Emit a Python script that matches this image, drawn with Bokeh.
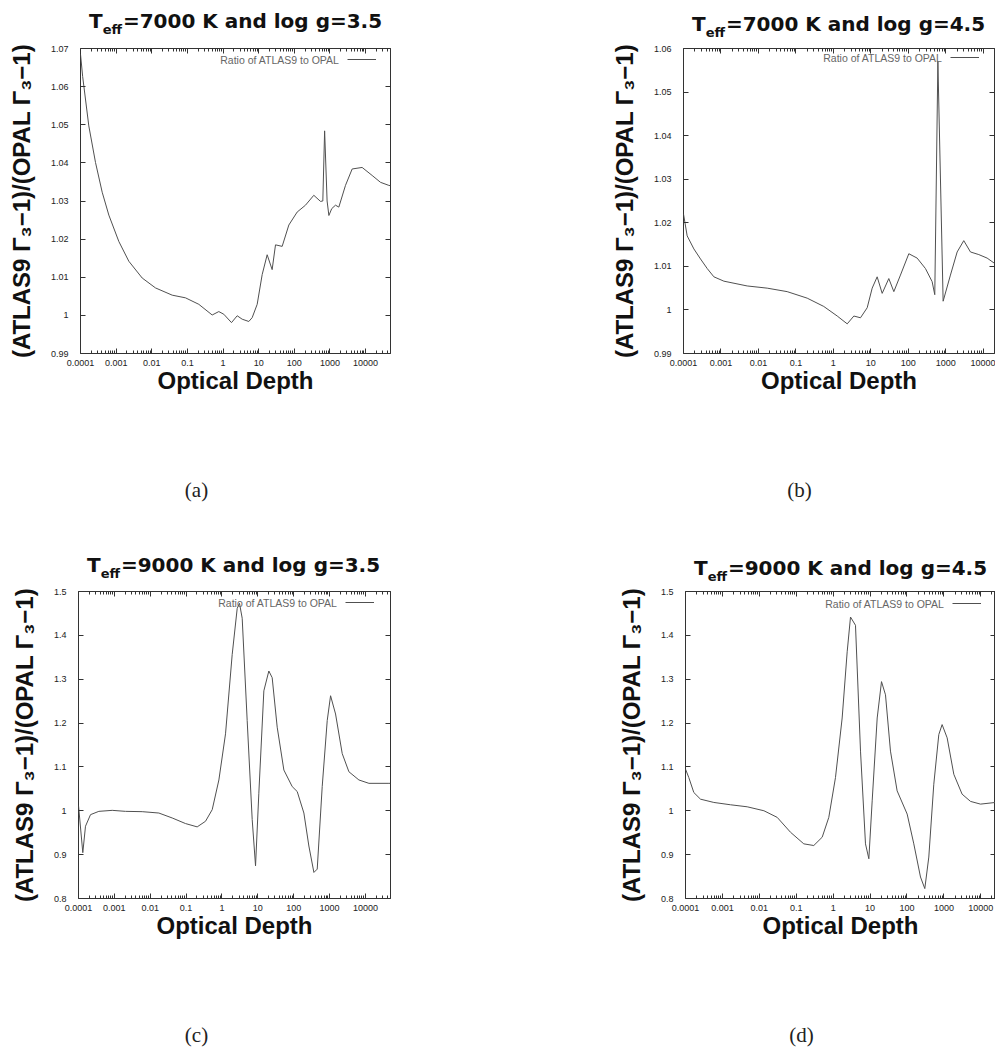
from bokeh.plotting import figure
from bokeh.models import (LogAxis, LinearAxis, FixedTicker, Label, Legend, LegendItem,
                          Range1d, CustomJSTickFormatter)
from bokeh.layouts import column, row
from bokeh.embed import file_html
from bokeh.resources import INLINE

# ---------------- data ----------------
x_tick_values = [1e-4, 1e-3, 1e-2, 1e-1, 1.0, 10.0, 100.0, 1000.0, 10000.0]
x_tick_labels = ["0.0001", "0.001", "0.01", "0.1", "1", "10", "100", "1000", "10000"]

y_ticks_a = [0.99, 1.0, 1.01, 1.02, 1.03, 1.04, 1.05, 1.06, 1.07]
y_labels_a = ["0.99", "1", "1.01", "1.02", "1.03", "1.04", "1.05", "1.06", "1.07"]
y_ticks_b = [0.99, 1.0, 1.01, 1.02, 1.03, 1.04, 1.05, 1.06]
y_labels_b = ["0.99", "1", "1.01", "1.02", "1.03", "1.04", "1.05", "1.06"]
y_ticks_cd = [0.8, 0.9, 1.0, 1.1, 1.2, 1.3, 1.4, 1.5]
y_labels_cd = ["0.8", "0.9", "1", "1.1", "1.2", "1.3", "1.4", "1.5"]

# (a) Teff=7000 K, log g=3.5  -- log10(optical depth) and ratio
log_tau_a = [-4.0, -3.94, -3.767, -3.579, -3.391, -3.205, -2.925, -2.644, -2.269, -1.895,
             -1.427, -1.054, -0.68, -0.305, -0.119, 0.021, 0.237, 0.397, 0.537, 0.723,
             0.817, 0.958, 1.098, 1.238, 1.378, 1.472, 1.659, 1.846, 2.08, 2.313,
             2.547, 2.734, 2.80, 2.85, 2.92, 2.97, 3.05, 3.155, 3.249, 3.436,
             3.623, 3.903, 4.184, 4.418, 4.651, 4.699]
ratio_a = [1.0685, 1.0627, 1.0497, 1.0401, 1.0323, 1.0263, 1.0194, 1.0142, 1.0098, 1.0072,
           1.0053, 1.0046, 1.0029, 1.0001, 1.0010, 1.0003, 0.9981, 0.9999, 0.9990, 0.9984,
           0.9994, 1.0029, 1.0107, 1.0159, 1.0120, 1.0185, 1.0181, 1.0237, 1.0271, 1.0289,
           1.0315, 1.0299, 1.0300, 1.0484, 1.0300, 1.0262, 1.0280, 1.0289, 1.0284, 1.0341,
           1.0384, 1.0388, 1.0367, 1.0349, 1.0341, 1.0340]

# (b) Teff=7000 K, log g=4.5
log_tau_b = [-4.0, -3.902, -3.723, -3.546, -3.367, -3.189, -2.922, -2.300, -1.766, -1.233,
             -0.698, -0.256, 0.103, 0.370, 0.547, 0.724, 0.903, 1.036, 1.169, 1.303,
             1.480, 1.614, 1.791, 2.014, 2.236, 2.458, 2.636, 2.707, 2.790, 2.930,
             3.125, 3.304, 3.481, 3.660, 3.882, 4.104, 4.301]
ratio_b = [1.0220, 1.0170, 1.0140, 1.0117, 1.0095, 1.0076, 1.0066, 1.0055, 1.0050, 1.0042,
           1.0027, 1.0008, 0.9986, 0.9968, 0.9986, 0.9982, 1.0005, 1.0050, 1.0076, 1.0038,
           1.0072, 1.0042, 1.0080, 1.0129, 1.0119, 1.0095, 1.0065, 1.0035, 1.0570, 1.0020,
           1.0080, 1.0133, 1.0159, 1.0133, 1.0127, 1.0119, 1.0107]

# (c) Teff=9000 K, log g=3.5
log_tau_c = [-4.0, -3.88, -3.805, -3.665, -3.433, -3.06, -2.69, -2.224, -1.76, -1.387,
             -1.017, -0.691, -0.459, -0.272, -0.086, 0.099, 0.285, 0.425, 0.489, 0.564,
             0.703, 0.843, 0.936, 1.028, 1.168, 1.307, 1.4, 1.54, 1.726, 1.958,
             2.098, 2.284, 2.423, 2.563, 2.656, 2.795, 2.935, 3.028, 3.167, 3.353,
             3.539, 3.818, 4.097, 4.655, 4.699]
ratio_c = [1.012, 0.9045, 0.9648, 0.9912, 0.9987, 1.001, 0.9987, 0.998, 0.9949, 0.9836,
           0.9709, 0.9633, 0.9761, 1.0026, 1.0703, 1.1755, 1.356, 1.4616, 1.4729, 1.439,
           1.2058, 0.98, 0.8745, 1.04, 1.2735, 1.3187, 1.3035, 1.1906, 1.0929, 1.0552,
           1.0439, 0.9949, 0.9197, 0.8594, 0.867, 1.0552, 1.2058, 1.2623, 1.2207, 1.1304,
           1.089, 1.0703, 1.0626, 1.0626, 1.0626]

# (d) Teff=9000 K, log g=4.5
log_tau_d = [-4.0, -3.910, -3.775, -3.594, -3.233, -2.781, -2.329, -1.876, -1.516, -1.156,
             -0.795, -0.525, -0.297, -0.118, 0.063, 0.244, 0.380, 0.470, 0.605, 0.741,
             0.876, 0.967, 1.057, 1.193, 1.310, 1.418, 1.553, 1.733, 2.005, 2.185,
             2.366, 2.483, 2.591, 2.726, 2.862, 2.952, 3.088, 3.269, 3.493, 3.721,
             3.992, 4.398]
ratio_d = [1.095, 1.0757, 1.0417, 1.0265, 1.019, 1.0137, 1.0091, 1.0001, 0.985, 0.9511,
           0.9246, 0.9208, 0.9398, 0.985, 1.0757, 1.2116, 1.3625, 1.4418, 1.423, 1.136,
           0.9246, 0.8906, 1.0227, 1.2116, 1.2945, 1.2644, 1.136, 1.0454, 0.9925, 0.9246,
           0.849, 0.8226, 0.8945, 1.0605, 1.1738, 1.1965, 1.1663, 1.0832, 1.0379, 1.0214,
           1.0152, 1.019]

titles = [("7000", "3.5"), ("7000", "4.5"), ("9000", "3.5"), ("9000", "4.5")]
captions = ["(a)", "(b)", "(c)", "(d)"]
legend_text = "Ratio of ATLAS9 to OPAL"
x_label = "Optical Depth"
y_label = "(ATLAS9 \u0393\u2083\u22121)/(OPAL \u0393\u2083\u22121)"

minor_x = [m * 10.0 ** k for k in range(-4, 5) for m in range(2, 10)]

LINE = "#505050"
FRAME = "#333333"
INK = "#111111"


def text_fig(width, height):
    f = figure(width=width, height=height, x_range=Range1d(0, 1), y_range=Range1d(0, 1),
               output_backend="svg", toolbar_location=None,
               x_axis_location=None, y_axis_location=None,
               min_border_left=0, min_border_right=0, min_border_top=0, min_border_bottom=0,
               background_fill_color="white", border_fill_color="white")
    f.grid.visible = False
    f.outline_line_color = None
    return f


def title_fig(width, height, frame_left, mid_from_top, sub_mid_from_top, title):
    f = text_fig(width, height)
    teff, logg = title
    x0 = frame_left + 8.5
    f.add_layout(Label(x=x0, y=height - mid_from_top, x_units="screen", y_units="screen",
                       text="T", text_font="DejaVu Sans", text_font_size="20px",
                       text_font_style="bold", text_color=INK,
                       text_align="left", text_baseline="middle"))
    f.add_layout(Label(x=x0 + 13.8, y=height - sub_mid_from_top, x_units="screen",
                       y_units="screen", text="eff",
                       text_font="DejaVu Sans", text_font_size="13px",
                       text_font_style="bold", text_color=INK,
                       text_align="left", text_baseline="middle"))
    f.add_layout(Label(x=x0 + 33.9, y=height - mid_from_top, x_units="screen", y_units="screen",
                       text="=%s K and log g=%s" % (teff, logg),
                       text_font="DejaVu Sans", text_font_size="20px",
                       text_font_style="bold", text_color=INK,
                       text_align="left", text_baseline="middle"))
    return f


def caption_fig(width, height, x, center_from_top, caption):
    f = text_fig(width, height)
    f.add_layout(Label(x=x, y=height - center_from_top, x_units="screen", y_units="screen",
                       text=caption, text_font="Liberation Serif", text_font_size="21px",
                       text_color="#222222", text_align="center", text_baseline="middle"))
    return f


def make_panel(log_tau, ratio, x_end, y_lo, y_hi, yticks, ylabels,
               width, height, left, top, frame_w, frame_h):
    right = width - left - frame_w
    bottom = height - top - frame_h
    p = figure(width=width, height=height, x_axis_type="log",
               x_range=Range1d(1e-4, x_end), y_range=Range1d(y_lo, y_hi),
               output_backend="svg", toolbar_location=None,
               min_border_left=left, min_border_right=right,
               min_border_top=top, min_border_bottom=bottom,
               background_fill_color="white", border_fill_color="white")
    p.grid.visible = False
    p.outline_line_color = FRAME
    p.outline_line_width = 1

    tau = [10 ** v for v in log_tau]
    r = p.line(tau, ratio, line_color=LINE, line_width=1)

    xt = FixedTicker(ticks=x_tick_values, minor_ticks=minor_x)
    yt = FixedTicker(ticks=yticks)

    xa = p.below[0]
    xa.ticker = xt
    xa.major_label_overrides = dict(zip(x_tick_values, x_tick_labels))
    xa.major_label_text_font = "Liberation Sans"
    xa.major_label_text_font_size = "9px"
    xa.major_label_text_color = "#222222"
    xa.major_label_standoff = 6
    xa.axis_line_color = None
    xa.major_tick_in = 5
    xa.major_tick_out = 0
    xa.minor_tick_in = 3
    xa.minor_tick_out = 0
    xa.major_tick_line_color = FRAME
    xa.minor_tick_line_color = FRAME
    xa.axis_label = x_label
    xa.axis_label_text_font = "Liberation Sans"
    xa.axis_label_text_font_size = "24px"
    xa.axis_label_text_font_style = "bold"
    xa.axis_label_text_color = INK
    xa.axis_label_standoff = -2

    ya = p.left[0]
    ya.ticker = yt
    ya.major_label_overrides = dict(zip(yticks, ylabels))
    ya.major_label_text_font = "Liberation Sans"
    ya.major_label_text_font_size = "9px"
    ya.major_label_text_color = "#222222"
    ya.major_label_standoff = 12
    ya.axis_line_color = None
    ya.major_tick_in = 5
    ya.major_tick_out = 0
    ya.minor_tick_line_color = None
    ya.major_tick_line_color = FRAME
    ya.axis_label = y_label
    ya.axis_label_text_font = "Liberation Sans"
    ya.axis_label_text_font_size = "24px"
    ya.axis_label_text_font_style = "bold"
    ya.axis_label_text_color = INK
    ya.axis_label_standoff = 13

    blank = CustomJSTickFormatter(code="return ''")
    top_ax = LogAxis(ticker=xt, formatter=blank, major_label_standoff=0,
                     major_label_text_font_size="0px",
                     axis_line_color=None, major_tick_in=5, major_tick_out=0,
                     minor_tick_in=3, minor_tick_out=0,
                     major_tick_line_color=FRAME, minor_tick_line_color=FRAME)
    p.add_layout(top_ax, "above")
    right_ax = LinearAxis(ticker=yt, formatter=blank, major_label_standoff=0,
                          major_label_text_font_size="0px",
                          axis_line_color=None, major_tick_in=5, major_tick_out=0,
                          minor_tick_line_color=None, major_tick_line_color=FRAME)
    p.add_layout(right_ax, "right")

    # key: text on the left, line sample on the right
    key_y = frame_h - 14
    p.add_layout(Label(x=259, y=key_y, x_units="screen", y_units="screen", text=legend_text,
                       text_font="Liberation Sans", text_font_size="10.5px",
                       text_color="#666666", text_align="right", text_baseline="middle"))
    leg = Legend(items=[LegendItem(label=" ", renderers=[r])], location=(267, key_y - 4),
                 glyph_width=29, glyph_height=8, padding=0, margin=0, spacing=0,
                 label_standoff=0, label_width=0, label_height=8,
                 label_text_font_size="8px", border_line_color=None,
                 background_fill_alpha=0)
    p.add_layout(leg)
    return p


# top half (0..520)
ta = title_fig(497, 42, 80, 20.5, 29.0, titles[0])
tb = title_fig(498, 42, 186, 23.5, 32.0, titles[1])
pa = make_panel(log_tau_a, ratio_a, 5e4, 0.99, 1.07, y_ticks_a, y_labels_a,
                width=497, height=418, left=80, top=3, frame_w=310, frame_h=308)
pb = make_panel(log_tau_b, ratio_b, 2e4, 0.99, 1.06, y_ticks_b, y_labels_b,
                width=498, height=418, left=186, top=6, frame_w=311, frame_h=310)
ca = caption_fig(497, 60, 196, 29, captions[0])
cb = caption_fig(498, 60, 302, 29, captions[1])

# bottom half (520..1049)
tc = title_fig(497, 65, 78, 44.0, 52.5, titles[2])
td = title_fig(498, 65, 188, 47.0, 55.5, titles[3])
pc = make_panel(log_tau_c, ratio_c, 5e4, 0.8, 1.5, y_ticks_cd, y_labels_cd,
                width=497, height=419, left=78, top=3, frame_w=312, frame_h=310)
pd = make_panel(log_tau_d, ratio_d, 2.5e4, 0.8, 1.5, y_ticks_cd, y_labels_cd,
                width=498, height=419, left=188, top=6, frame_w=310, frame_h=309)
cc = caption_fig(497, 45, 196, 30, captions[2])
cd = caption_fig(498, 45, 304, 30, captions[3])

layout = column(row(ta, tb), row(pa, pb), row(ca, cb),
                row(tc, td), row(pc, pd), row(cc, cd))

open("out.html", "w").write(file_html(layout, INLINE))
